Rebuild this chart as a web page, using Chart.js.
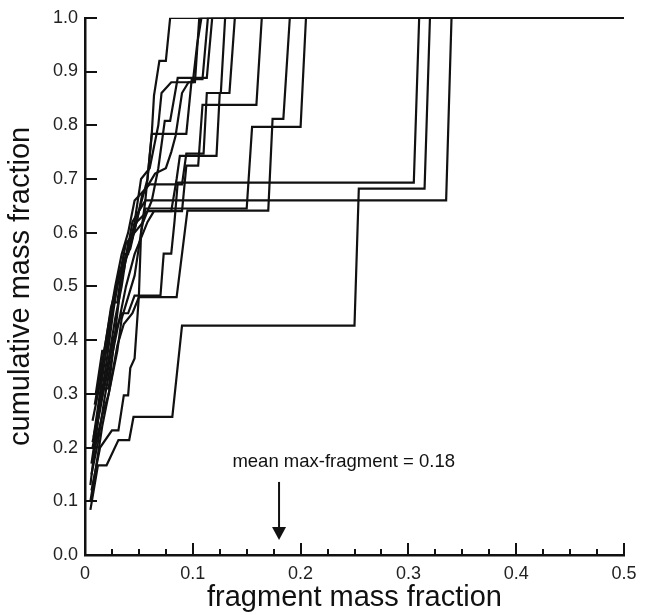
<!DOCTYPE html>
<html>
<head>
<meta charset="utf-8">
<script src="https://cdn.jsdelivr.net/npm/chart.js@4.4.1/dist/chart.umd.min.js"></script>
<style>
  html, body { margin: 0; padding: 0; background: #fff; }
  #wrap { width: 649px; height: 615px; }
</style>
</head>
<body>
<div id="wrap"><canvas id="chart" width="649" height="615"></canvas></div>
<script>
// cumulative mass fraction vs fragment mass fraction, one run per array [x, y]
const run01 = [[0.005,0.13],[0.012,0.25],[0.016,0.31],[0.022,0.31],[0.030,0.45],[0.036,0.55],[0.042,0.57],[0.050,0.64],[0.056,0.66],[0.062,0.786],[0.064,0.855],[0.069,0.92],[0.075,0.92],[0.079,1.0],[0.5,1.0]];
const run02 = [[0.006,0.17],[0.014,0.28],[0.020,0.36],[0.026,0.45],[0.032,0.53],[0.036,0.53],[0.044,0.62],[0.050,0.64],[0.058,0.70],[0.062,0.784],[0.094,0.784],[0.099,0.886],[0.109,0.886],[0.114,1.0],[0.5,1.0]];
const run03 = [[0.008,0.22],[0.016,0.33],[0.024,0.44],[0.030,0.50],[0.038,0.58],[0.046,0.60],[0.054,0.62],[0.062,0.66],[0.068,0.72],[0.074,0.808],[0.079,0.808],[0.086,0.888],[0.113,0.888],[0.118,1.0],[0.5,1.0]];
const run04 = [[0.007,0.20],[0.014,0.27],[0.020,0.34],[0.028,0.44],[0.034,0.50],[0.040,0.58],[0.048,0.62],[0.058,0.64],[0.080,0.64],[0.085,0.70],[0.088,0.743],[0.122,0.743],[0.125,0.86],[0.134,0.86],[0.139,1.0],[0.5,1.0]];
const run05 = [[0.009,0.28],[0.016,0.36],[0.022,0.43],[0.028,0.50],[0.034,0.56],[0.040,0.60],[0.046,0.66],[0.060,0.69],[0.090,0.69],[0.094,0.747],[0.110,0.747],[0.113,0.86],[0.126,0.86],[0.130,1.0],[0.5,1.0]];
const run06 = [[0.006,0.15],[0.012,0.21],[0.018,0.29],[0.026,0.38],[0.030,0.42],[0.038,0.50],[0.046,0.56],[0.050,0.58],[0.058,0.62],[0.064,0.64],[0.090,0.64],[0.094,0.725],[0.105,0.725],[0.109,0.838],[0.159,0.838],[0.164,1.0],[0.5,1.0]];
const run07 = [[0.008,0.19],[0.016,0.26],[0.022,0.30],[0.030,0.39],[0.036,0.43],[0.044,0.45],[0.050,0.48],[0.085,0.48],[0.095,0.641],[0.170,0.641],[0.174,0.812],[0.184,0.812],[0.190,1.0],[0.5,1.0]];
const run08 = [[0.005,0.10],[0.010,0.16],[0.016,0.24],[0.022,0.30],[0.030,0.38],[0.034,0.44],[0.040,0.48],[0.046,0.52],[0.052,0.60],[0.056,0.645],[0.150,0.645],[0.155,0.797],[0.200,0.797],[0.205,1.0],[0.5,1.0]];
const run09 = [[0.007,0.21],[0.012,0.26],[0.020,0.33],[0.026,0.40],[0.034,0.45],[0.040,0.45],[0.046,0.483],[0.070,0.483],[0.073,0.561],[0.080,0.561],[0.083,0.62],[0.086,0.693],[0.305,0.693],[0.310,1.0],[0.5,1.0]];
const run10 = [[0.005,0.084],[0.012,0.167],[0.020,0.167],[0.031,0.214],[0.041,0.214],[0.045,0.257],[0.081,0.257],[0.090,0.427],[0.250,0.427],[0.254,0.682],[0.315,0.682],[0.320,1.0],[0.5,1.0]];
const run11 = [[0.006,0.12],[0.014,0.20],[0.025,0.232],[0.031,0.232],[0.036,0.297],[0.040,0.297],[0.042,0.348],[0.046,0.366],[0.050,0.483],[0.052,0.60],[0.056,0.66],[0.335,0.66],[0.340,1.0],[0.5,1.0]];
const run12 = [[0.010,0.30],[0.016,0.38],[0.020,0.38],[0.026,0.47],[0.030,0.47],[0.036,0.56],[0.040,0.56],[0.046,0.62],[0.052,0.70],[0.060,0.72],[0.064,0.76],[0.068,0.80],[0.071,0.86],[0.080,0.88],[0.100,0.88],[0.104,0.95],[0.108,1.0],[0.5,1.0]];
const run13 = [[0.007,0.25],[0.014,0.32],[0.018,0.38],[0.024,0.46],[0.032,0.52],[0.038,0.55],[0.044,0.59],[0.049,0.63],[0.053,0.67],[0.065,0.71],[0.075,0.72],[0.080,0.75],[0.084,0.78],[0.090,0.86],[0.096,0.88],[0.102,0.88],[0.106,1.0],[0.5,1.0]];

const runs = [run01, run02, run03, run04, run05, run06, run07, run08, run09, run10, run11, run12, run13];

const xTickLabels = ['0', '0.1', '0.2', '0.3', '0.4', '0.5'];
const yTickLabels = ['0.0', '0.1', '0.2', '0.3', '0.4', '0.5', '0.6', '0.7', '0.8', '0.9', '1.0'];

const meanMaxFragment = 0.18;
const noteText = 'mean max-fragment = 0.18';

const ink = '#111';
const font = 'Liberation Sans, Arial, Helvetica, sans-serif';

// inward ticks + arrow note
const extras = {
  id: 'extras',
  afterDraw(chart) {
    const ctx = chart.ctx;
    const xs = chart.scales.x, ys = chart.scales.y;
    const area = chart.chartArea;
    ctx.save();
    ctx.strokeStyle = ink;
    ctx.lineWidth = 2;
    // x ticks: major every 0.1, minor every 0.025
    for (let i = 0; i <= 20; i++) {
      const v = i * 0.025;
      const px = Math.round(xs.getPixelForValue(v));
      const len = (i % 4 === 0) ? 12 : 6;
      ctx.beginPath();
      ctx.moveTo(px, area.bottom);
      ctx.lineTo(px, area.bottom - len);
      ctx.stroke();
    }
    // y ticks
    for (let i = 0; i <= 10; i++) {
      const py = Math.round(ys.getPixelForValue(i / 10));
      ctx.beginPath();
      ctx.moveTo(area.left, py);
      ctx.lineTo(area.left + 12, py);
      ctx.stroke();
    }
    // arrow
    const ax = xs.getPixelForValue(meanMaxFragment);
    const yTop = ys.getPixelForValue(0.136);
    const yHead = ys.getPixelForValue(0.052);
    const yTip = ys.getPixelForValue(0.028);
    ctx.lineWidth = 2;
    ctx.beginPath();
    ctx.moveTo(ax, yTop);
    ctx.lineTo(ax, yHead);
    ctx.stroke();
    ctx.fillStyle = ink;
    ctx.beginPath();
    ctx.moveTo(ax - 7, yHead);
    ctx.lineTo(ax + 7, yHead);
    ctx.lineTo(ax, yTip);
    ctx.closePath();
    ctx.fill();
    // note text
    ctx.font = '18.5px ' + font;
    ctx.textAlign = 'center';
    ctx.textBaseline = 'middle';
    ctx.fillText(noteText, xs.getPixelForValue(0.24), ys.getPixelForValue(0.173));
    ctx.restore();
  }
};

new Chart(document.getElementById('chart'), {
  type: 'scatter',
  data: {
    datasets: runs.map((r, i) => ({
      label: 'run ' + (i + 1),
      data: r.map(p => ({ x: p[0], y: p[1] })),
      showLine: true,
      borderColor: ink,
      borderWidth: 2.2,
      pointRadius: 0,
      fill: false,
      tension: 0
    }))
  },
  options: {
    responsive: false,
    animation: false,
    layout: { padding: { left: 0, right: 25, top: 17, bottom: 0 } },
    plugins: {
      legend: { display: false },
      tooltip: { enabled: false }
    },
    scales: {
      x: {
        type: 'linear',
        min: 0, max: 0.5,
        grid: { display: false, drawTicks: false },
        border: { display: true, color: ink, width: 2.5 },
        ticks: {
          stepSize: 0.1,
          padding: 8,
          color: '#222',
          font: { family: font, size: 18 },
          maxRotation: 0,
          callback: (v, i) => xTickLabels[i]
        },
        title: {
          display: true,
          text: 'fragment mass fraction',
          color: '#111',
          font: { family: font, size: 29 },
          padding: { top: 0, bottom: 0 }
        },
        afterFit: s => { s.height = 60; }
      },
      y: {
        type: 'linear',
        min: 0, max: 1.0,
        grid: { display: false, drawTicks: false },
        border: { display: true, color: ink, width: 2.5 },
        ticks: {
          stepSize: 0.1,
          padding: 7,
          color: '#222',
          font: { family: font, size: 18 },
          callback: (v, i) => yTickLabels[i]
        },
        title: {
          display: true,
          text: 'cumulative mass fraction',
          color: '#111',
          font: { family: font, size: 29 },
          padding: { top: 4, bottom: 0 }
        },
        afterFit: s => { s.width = 85; }
      }
    }
  },
  plugins: [extras]
});
</script>
</body>
</html>
